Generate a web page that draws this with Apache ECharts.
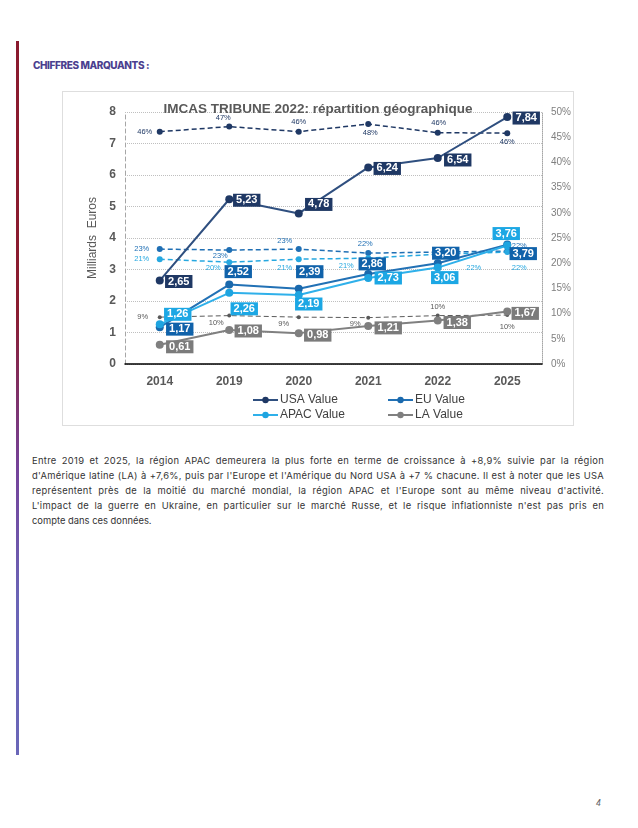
<!DOCTYPE html>
<html>
<head>
<meta charset="utf-8">
<script src="https://cdn.jsdelivr.net/npm/echarts@6/dist/echarts.min.js"></script>
<style>
  html, body { margin: 0; padding: 0; background: #fff; }
  body { width: 638px; height: 828px; position: relative; overflow: hidden; }
  #bar { position: absolute; left: 16px; top: 41px; width: 3px; height: 714px;
         background: linear-gradient(to bottom, #8a1a2e 0%, #8a1c30 38%, #74429a 60%, #6a64b6 78%, #6a66b8 100%); }
  #head { position: absolute; left: 33px; top: 59px; font-family: "Inter", "Lato", sans-serif; font-weight: 800;
          font-size: 10px; color: #4b3f8f; letter-spacing: -0.4px; white-space: nowrap; }
  #frame { position: absolute; left: 62px; top: 91px; width: 512px; height: 335px; box-sizing: border-box;
           border: 1px solid #dedede; }
  #chart { position: absolute; left: 62px; top: 91px; width: 512px; height: 335px; }
  #para { position: absolute; left: 32px; top: 453px; width: 572px; font-family: "Inter", sans-serif;
          font-size: 9.4px; color: #333; }
  #para div { white-space: nowrap; text-align: justify; text-align-last: justify; height: 15px; line-height: 15px; }
  #para div.last { text-align-last: left; }
  #para span { display: inline-block; }
  #pnum { position: absolute; left: 596px; top: 799px; font-family: "DejaVu Sans", sans-serif; font-style: italic;
          font-size: 8px; color: #666; }
</style>
</head>
<body>
<div id="bar"></div>
<div id="head">CHIFFRES MARQUANTS :</div>
<div id="frame"></div>
<div id="chart"></div>
<div id="para">
  <div>Entre 2019 et 2025, la région APAC demeurera la plus forte en terme de croissance à +8,9% suivie par la région</div>
  <div>d'Amérique latine (LA) à +7,6%, puis par l'Europe et l'Amérique du Nord USA à +7 % chacune. Il est à noter que les USA</div>
  <div>représentent près de la moitié du marché mondial, la région APAC et l'Europe sont au même niveau d'activité.</div>
  <div>L'impact de la guerre en Ukraine, en particulier sur le marché Russe, et le risque inflationniste n'est pas pris en</div>
  <div class="last">compte dans ces données.</div>
</div>
<div id="pnum">4</div>
<script>
// ---- data ----
const categories = ['2014', '2019', '2020', '2021', '2022', '2025'];
const usaValue  = [2.65, 5.23, 4.78, 6.24, 6.54, 7.84];
const euValue   = [1.17, 2.52, 2.39, 2.86, 3.20, 3.79];
const apacValue = [1.26, 2.26, 2.19, 2.73, 3.06, 3.76];
const laValue   = [0.61, 1.08, 0.98, 1.21, 1.38, 1.67];
const usaShare  = [46.1, 47.1, 46.1, 47.6, 45.9, 45.8];
const euShare   = [22.8, 22.6, 22.8, 22.0, 22.2, 22.4];
const apacShare = [20.8, 20.2, 20.8, 21.0, 21.8, 22.2];
const laShare   = [9.3, 9.6, 9.3, 9.2, 9.6, 9.7];
const seriesNames = ['USA Value', 'EU Value', 'APAC Value', 'LA Value'];

// ---- label placement (style) ----
const usaValOff  = [[19,1],[17.5,1],[20,-9],[19,1],[20,2],[19,1]];
const euValOff   = [[20,2],[9,-13],[11,-17],[4,-10],[8,-10],[16,9]];
const apacValOff = [[18,-10],[15,16],[10,9],[20,0],[7,10],[-1,-12]];
const laValOff   = [[20,2],[19,1],[19,2],[20,2],[19.5,2],[18,2]];
const usaShOff   = [[-15,0],[-6,-9],[0,-10],[2,9],[1,-10],[0,9]];
const euShOff    = [[-18,0],[-9,6],[-14,-8],[-3,-9],[8,-2],[12,-5]];
const apacShOff  = [[-18,0],[-16,6],[-14,9],[-22,8],[36,14],[12,16]];
const laShOff    = [[-17,0],[-13,7],[-15,7],[-13,6],[0,-9],[0,12]];

const C = {
  usa:  { line: '#2f4f7f', mark: '#1f3864', box: '#1f3864' },
  eu:   { line: '#2271b5', mark: '#1a69ad', box: '#1062aa' },
  apac: { line: '#2fb0ea', mark: '#1ea4e0', box: '#1ca7e4' },
  la:   { line: '#808080', mark: '#7f7f7f', box: '#7b7b7b' }
};
const FONT = 'Liberation Sans, Arial, sans-serif';

function valueSeries(name, vals, offs, c) {
  return {
    name: name, type: 'line', yAxisIndex: 0, z: 5,
    data: vals.map((v, i) => ({ value: v, label: { offset: offs[i] } })),
    symbol: 'circle', symbolSize: 8,
    lineStyle: { color: c.line, width: 2 },
    itemStyle: { color: c.mark },
    label: {
      show: true, position: 'inside', color: '#fff', fontWeight: 'bold', fontSize: 11,
      fontFamily: FONT, lineHeight: 11, backgroundColor: c.box, padding: [1, 3, 1, 3],
      formatter: p => p.value.toFixed(2).replace('.', ',')
    }
  };
}
function shareSeries(vals, offs, color, size, width) {
  return {
    type: 'line', yAxisIndex: 1, z: 3,
    data: vals.map((v, i) => ({ value: v, label: { offset: offs[i] } })),
    symbol: 'circle', symbolSize: size,
    lineStyle: { color: color, width: width, type: [5, 3] },
    itemStyle: { color: color },
    label: {
      show: true, position: 'inside', color: color, fontSize: 7.5, fontFamily: FONT,
      formatter: p => Math.round(p.value) + '%'
    }
  };
}

const chart = echarts.init(document.getElementById('chart'), null, { renderer: 'canvas' });
const legendBase = { itemWidth: 25, itemHeight: 8, itemGap: 0,
  textStyle: { fontSize: 12, color: '#404040', fontFamily: FONT, padding: [0, 0, 0, -3] } };
chart.setOption({
  animation: false,
  title: {
    text: 'IMCAS TRIBUNE 2022: répartition géographique', left: 'center', top: 6,
    textStyle: { fontSize: 13.5, fontWeight: 'bold', color: '#595959', fontFamily: FONT }
  },
  legend: [
    Object.assign({ data: [seriesNames[0]], left: 185, top: 298 }, legendBase),
    Object.assign({ data: [seriesNames[1]], left: 320, top: 298 }, legendBase),
    Object.assign({ data: [seriesNames[2]], left: 185, top: 313 }, legendBase),
    Object.assign({ data: [seriesNames[3]], left: 320, top: 313 }, legendBase)
  ],
  grid: { left: 63, right: 27, top: 21, bottom: 62 },
  xAxis: {
    type: 'category', data: categories, boundaryGap: true,
    axisLine: { lineStyle: { color: '#000', width: 1.5 } },
    axisTick: { show: false },
    axisLabel: { fontSize: 12, fontWeight: 'bold', color: '#595959', fontFamily: FONT, margin: 12 }
  },
  yAxis: [
    {
      type: 'value', min: 0, max: 8, interval: 1,
      name: 'Milliards  Euros', nameLocation: 'middle', nameGap: 18,
      nameTextStyle: { fontSize: 12, color: '#595959', fontFamily: FONT },
      axisLine: { show: true, lineStyle: { color: '#a6a6a6', type: [4, 3], width: 1 } },
      axisTick: { show: false },
      axisLabel: { fontSize: 12, fontWeight: 'bold', color: '#595959', fontFamily: FONT, margin: 9 },
      splitLine: { show: true, lineStyle: { color: '#bfbfbf', type: 'dotted', width: 1 } }
    },
    {
      type: 'value', min: 0, max: 50, interval: 5, position: 'right',
      axisLine: { show: true, lineStyle: { color: '#a6a6a6', type: 'dotted', width: 1 } },
      axisTick: { show: false },
      axisLabel: { fontSize: 10, color: '#7f7f7f', fontFamily: FONT, margin: 9, formatter: '{value}%' },
      splitLine: { show: false }
    }
  ],
  series: [
    shareSeries(usaShare, usaShOff, '#1f3864', 6, 1.5),
    shareSeries(euShare, euShOff, '#1f6fb4', 6, 1.5),
    shareSeries(apacShare, apacShOff, '#27a8e0', 6, 1.5),
    shareSeries(laShare, laShOff, '#595959', 4, 1),
    valueSeries(seriesNames[3], laValue, laValOff, C.la),
    valueSeries(seriesNames[1], euValue, euValOff, C.eu),
    valueSeries(seriesNames[2], apacValue, apacValOff, C.apac),
    valueSeries(seriesNames[0], usaValue, usaValOff, C.usa)
  ]
});

// fit each paragraph line to the column width via letter spacing
document.querySelectorAll('#para div').forEach(d => {
  if (d.classList.contains('last')) return;
  const txt = d.textContent;
  const probe = document.createElement('span');
  probe.textContent = txt;
  d.textContent = '';
  d.appendChild(probe);
  const w = probe.getBoundingClientRect().width;
  d.textContent = txt;
  const ls = (572 - w) / (txt.length - 1);
  d.style.letterSpacing = Math.min(ls, 0.3).toFixed(3) + 'px';
});
</script>
</body>
</html>
